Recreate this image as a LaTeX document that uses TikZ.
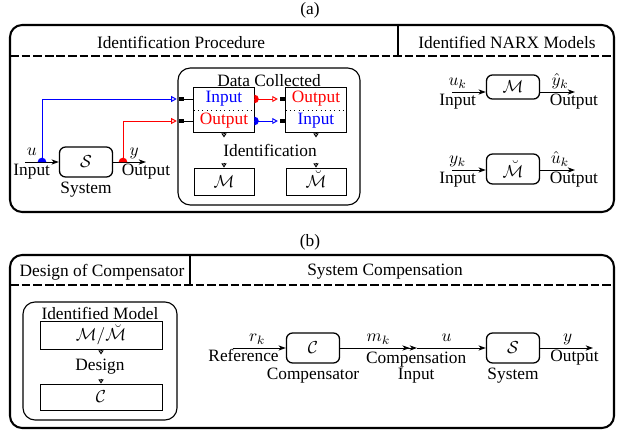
\documentclass[tikz,border=0pt]{standalone}
\usepackage{amsmath, amssymb}
\usepackage{fontspec}
\setmainfont{Liberation Serif}
\usetikzlibrary{arrows.meta, positioning, calc}
\newcommand\tapdot[3]{%
  \fill[#1] (#2) ++(#3+90:2.5pt) arc[start angle=#3+90, end angle=#3-90, radius=2.5pt] -- cycle;%
}

\begin{document}
\begin{tikzpicture}[x=0.577pt, y=0.577pt, line width=0.55pt,
    >={Stealth[length=4.2pt, width=3pt, inset=1.2pt]},
    panel/.style={draw, line width=1.2pt, rounded corners=7pt},
    hdr/.style={line width=0.7pt, dash pattern=on 5pt off 1.7pt},
    blk/.style={draw, line width=0.75pt, rounded corners=3.5pt, minimum width=30.6pt, minimum height=17.3pt},
    grp/.style={draw, line width=0.65pt, rounded corners=7pt},
    row/.style={minimum width=34.6pt, minimum height=12.7pt, inner sep=0pt},
    mbox/.style={draw, line width=0.5pt, minimum width=34.6pt, minimum height=15.6pt, inner sep=0pt,
      text height=6.8pt, text depth=0.4pt},
    sq/.style={fill, minimum width=2.9pt, minimum height=2.4pt, inner sep=0pt},
    tri/.style={-{Triangle[open, length=2.4pt, width=3pt]}, line width=0.5pt},
    opn/.style={-{Triangle[open, length=3.2pt, width=3.4pt]}, shorten >=1pt},
    alab/.style={above, inner sep=2pt, text height=4.5pt, text depth=1.5pt},
    blab/.style={below, inner sep=1pt, text height=6.8pt, text depth=2.2pt}]
  \useasboundingbox (0,0) rectangle (621,431);

  % (a) identification
  \node at (310,421) {(a)};
  \draw[panel] (10,219) rectangle (614,406);
  \draw[hdr] (10,375) -- (614,375);
  \draw[line width=0.8pt] (398,375) -- (398,406);
  \node at (181,389) {Identification Procedure};
  \node at (507,389) {Identified NARX Models};

  \node[blk] (sys) at (86,269) {$\mathcal{S}$};
  \node[blab, below=1pt of sys] {System};
  \coordinate (u0) at (25,269);
  \coordinate (ut) at (42,269);
  \coordinate (yt) at (123,269);
  \coordinate (y0) at (146,269);
  \path[->] (u0) edge node[alab, pos=.2] {$u$} node[blab, pos=.2] {Input} (sys)
            (sys) edge node[alab, pos=.64] {$y$} node[blab, pos=1] {Output} (y0);

  \node[grp, minimum width=105pt, minimum height=79pt] (dc) at (269,294.5) {};
  \node[below=2.5pt of dc.north, inner sep=1pt] {Data Collected};
  \node[row, text=blue] (in1) at (224,332) {Input};
  \node[row, text=red] (out1) at (224,310) {Output};
  \node[row, text=red] (out2) at (316,332) {Output};
  \node[row, text=blue] (in2) at (316,310) {Input};
  \draw (in1.north west) rectangle (out1.south east);
  \draw (out2.north west) rectangle (in2.south east);
  \draw[dotted] (in1.south west) -- (in1.south east);
  \draw[dotted] (out2.south west) -- (out2.south east);

  \node[sq] (s1) at (181.5,332) {};
  \node[sq] (s2) at (181.5,310) {};
  \node[sq, left=0pt of out2.west] (s3) {};
  \node[sq, left=0pt of in2.west] (s4) {};
  \draw (s1) -- (in1);
  \draw (s2) -- (out1);
  \draw[blue, opn] (ut) |- (s1);
  \draw[red, opn] (yt) |- (s2);
  \tapdot{blue}{ut}{90}
  \tapdot{red}{yt}{90}
  \draw[red, opn] (in1.east) -- (s3);
  \draw[blue, opn] (out1.east) -- (s4);
  \tapdot{red}{in1.east}{0}
  \tapdot{blue}{out1.east}{0}

  \draw[tri] (out1.south) -- ++(0,-5);
  \draw[tri] (in2.south) -- ++(0,-5);
  \node (idf) at (270,281) {Identification};
  \node[mbox] (m1) at (224,249.5) {$\mathcal{M}$};
  \node[mbox] (m2) at (316,249.5) {$\breve{\mathcal{M}}$};
  \draw[tri] ([yshift=2.8pt]m1.north) -- (m1.north);
  \draw[tri] ([yshift=2.8pt]m2.north) -- (m2.north);

  \node[blk, minimum height=13.9pt] (nm) at (513,344) {$\mathcal{M}$};
  \coordinate (nu) at (452,339);
  \coordinate (ny) at (575,339);
  \path[->] (nu) edge node[alab, pos=.17] {$u_k$} node[blab, pos=.17] {Input} (nu -| nm.west)
            (nu -| nm.east) edge node[alab, pos=.57] {$\hat{y}_k$} node[blab, pos=.97] {Output} (ny);
  \node[blk] (nb) at (513,262) {$\breve{\mathcal{M}}$};
  \coordinate (nv) at (452,261);
  \coordinate (nw) at (575,261);
  \path[->] (nv) edge node[alab, pos=.17] {$y_k$} node[blab, pos=.17] {Input} (nv -| nb.west)
            (nv -| nb.east) edge node[alab, pos=.57] {$\hat{u}_k$} node[blab, pos=.97] {Output} (nw);

  % (b) compensation
  \node at (310,189) {(b)};
  \draw[panel] (10,3) rectangle (614,176);
  \draw[hdr] (10,146) -- (614,146);
  \draw[line width=0.8pt] (190,146) -- (190,176);
  \node at (102,159) {Design of Compensator};
  \node at (385,159) {System Compensation};

  \node[grp, minimum width=88.9pt, minimum height=68.1pt] (idm) at (100,70) {};
  \node[below=2pt of idm.north, inner sep=1pt] {Identified Model};
  \node[mbox, minimum width=70.4pt, minimum height=16.2pt] (mm) at (101,96) {$\mathcal{M}/\breve{\mathcal{M}}$};
  \draw[tri] (mm.south) -- ++(0,-5);
  \node (dsg) at (100,64) {Design};
  \node[mbox, minimum width=70.4pt, minimum height=15pt] (cc) at (101,34) {$\mathcal{C}$};
  \draw[tri] ([yshift=2.8pt]cc.north) -- (cc.north);

  \node[blk] (comp) at (313,83) {$\mathcal{C}$};
  \node[blk] (plant) at (513,83) {$\mathcal{S}$};
  \node[blab, below=1pt of comp] {Compensator};
  \node[blab, below=1pt of plant] {System};
  \coordinate (r0) at (233,83);
  \coordinate (mk) at (417,83);
  \coordinate (y2) at (593,83);
  \path[->] (r0) edge node[alab, pos=.46] {$r_k$} node[blab, pos=.2] {Reference} (comp)
            (comp) edge[->>] node[alab, pos=.5] {$m_k$}
                   node[below, inner sep=2pt, align=center, pos=.99] {Compensation\\[-2.6pt]Input} (mk)
            (mk) edge node[alab, pos=.43] {$u$} (plant)
            (plant) edge node[alab, pos=.52] {$y$} node[blab, pos=.65] {Output} (y2);
\end{tikzpicture}
\end{document}
